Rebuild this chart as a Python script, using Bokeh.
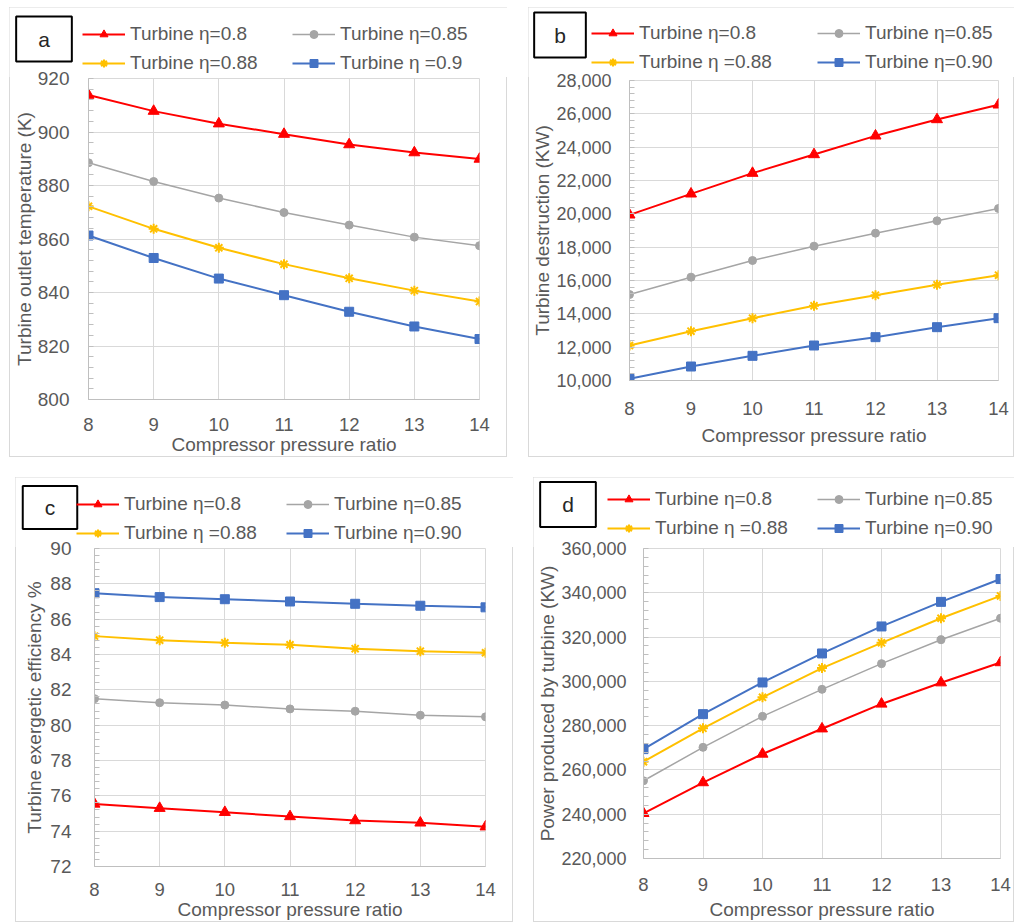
from bokeh.plotting import figure
from bokeh.layouts import column, row
from bokeh.models import (Legend, LegendItem, Label, NumeralTickFormatter,
                          SingleIntervalTicker, FixedTicker, Range1d, Spacer)
from bokeh.embed import file_html
from bokeh.resources import INLINE

# ---------------- data ----------------
pressure_ratio = [8, 9, 10, 11, 12, 13, 14]

a_eta080 = [913.8, 907.8, 903.1, 899.2, 895.3, 892.3, 889.9]
a_eta085 = [888.5, 881.5, 875.3, 869.9, 865.2, 860.7, 857.5]
a_eta088 = [872.2, 863.8, 856.7, 850.6, 845.3, 840.7, 836.6]
a_eta090 = [861.3, 852.9, 845.2, 839.0, 832.8, 827.3, 822.6]

b_eta080 = [19940, 21200, 22440, 23560, 24680, 25660, 26540]
b_eta085 = [15160, 16200, 17200, 18060, 18840, 19580, 20320]
b_eta088 = [12100, 12960, 13740, 14480, 15120, 15740, 16320]
b_eta090 = [10100, 10840, 11480, 12100, 12600, 13200, 13740]

c_eta080 = [75.54, 75.30, 75.07, 74.83, 74.60, 74.47, 74.25]
c_eta085 = [81.50, 81.27, 81.14, 80.92, 80.79, 80.56, 80.47]
c_eta088 = [85.04, 84.81, 84.66, 84.55, 84.33, 84.19, 84.10]
c_eta090 = [87.47, 87.25, 87.13, 87.00, 86.87, 86.76, 86.67]

d_eta080 = [240400, 254300, 267200, 278600, 289800, 299400, 308500]
d_eta085 = [255100, 270200, 284200, 296400, 308000, 318800, 328500]
d_eta088 = [263700, 278800, 292800, 306000, 317400, 328500, 338600]
d_eta090 = [269400, 285200, 299500, 312600, 324800, 335900, 346200]

labels_a = ["Turbine \u03b7=0.8", "Turbine \u03b7=0.85", "Turbine \u03b7=0.88", "Turbine \u03b7 =0.9"]
labels_bcd = ["Turbine \u03b7=0.8", "Turbine \u03b7=0.85", "Turbine \u03b7 =0.88", "Turbine \u03b7=0.90"]

x_title = "Compressor pressure ratio"
y_titles = ["Turbine outlet temperature (K)", "Turbine destruction (KW)",
            "Turbine exergetic efficiency %", "Power produced by turbine (KW)"]

# ---------------- styles ----------------
FONT = "Liberation Sans"
TXT = "#595959"
series_style = [
    dict(color="#ff0000", marker="triangle", size=11, lw=2),
    dict(color="#a5a5a5", marker="circle", size=8, lw=1.5),
    dict(color="#ffc000", marker="asterisk", size=10, lw=2),
    dict(color="#4472c4", marker="square", size=9, lw=2),
]

HEAD_H = 70      # header figure height (label box + legend)
OVERLAP = 14     # header overlaps the top border of the chart figure


def add_series(p, x, y, st):
    r1 = p.line(x, y, line_color=st["color"], line_width=st["lw"])
    r2 = p.scatter(x, y, marker=st["marker"], size=st["size"],
                   fill_color=st["color"], line_color=st["color"],
                   line_width=2 if st["marker"] == "asterisk" else 1)
    return [r1, r2]


def make_panel(letter, ys, labels, ytitle, yr, ystep, fmt, ytick_size,
               box, frame, label_box, leg_cols, leg_row2,
               ytick_std, ytitle_std, xtick_std, xtitle_std):
    # box = (left, top, width, height) of whole panel in page pixels
    # frame = (left, top, right, bottom) of plotting area in page pixels
    bx0, by0, w, h = box
    fx0, fy0, fx1, fy1 = frame
    chart_top = by0 + HEAD_H - OVERLAP
    chart_h = by0 + h - chart_top

    # ---- header (label box + legend) ----
    head = figure(width=w, height=HEAD_H, output_backend="svg",
                  toolbar_location=None, title=None, frame_align=False,
                  x_range=Range1d(0, 1), y_range=Range1d(0, 1),
                  x_axis_location=None, y_axis_location=None,
                  min_border=0)
    head.outline_line_color = None
    head.grid.visible = False
    head.background_fill_color = "white"
    head.border_fill_color = "white"
    head.styles = {"margin-bottom": f"-{OVERLAP}px"}

    items = []
    for y, st, lab in zip(ys, series_style, labels):
        # series kept outside the header's view; only used for legend samples
        rs = add_series(head, pressure_ratio, y, st)
        items.append(LegendItem(label=lab, renderers=rs))

    head_bottom = by0 + HEAD_H
    for col, idx in zip(leg_cols, ([0, 2], [1, 3])):
        lg = Legend(items=[items[i] for i in idx],
                    location=(col - bx0, head_bottom - (leg_row2 + 10)),
                    orientation="vertical",
                    glyph_width=43, glyph_height=20, label_height=20,
                    label_standoff=5, spacing=7, padding=0, margin=0,
                    border_line_color=None, background_fill_alpha=0,
                    label_text_font=FONT, label_text_font_size="19px",
                    label_text_color=TXT)
        head.add_layout(lg)

    lx0, ly0, lx1, ly1 = label_box
    head.add_layout(Label(x=(lx0 + lx1) / 2 - bx0, y=head_bottom - (ly0 + ly1) / 2,
                          x_units="screen", y_units="screen",
                          text=letter, text_align="center", text_baseline="middle",
                          text_font=FONT, text_font_size="21px",
                          text_color="#262626",
                          border_line_color="black", border_line_width=2,
                          background_fill_color="white",
                          padding=(int((lx1 - lx0 - 12) / 2), int((ly1 - ly0 - 22) / 2))))

    # ---- chart ----
    p = figure(width=w, height=chart_h, output_backend="svg",
               toolbar_location=None, title=None, frame_align=False,
               x_range=Range1d(8, 14), y_range=Range1d(*yr),
               min_border_left=fx0 - bx0, min_border_right=bx0 + w - fx1,
               min_border_top=fy0 - chart_top, min_border_bottom=by0 + h - fy1)
    p.background_fill_color = "white"
    p.border_fill_color = None
    p.outline_line_color = "#d9d9d9"
    p.grid.grid_line_color = "#d9d9d9"
    p.grid.grid_line_width = 1

    p.xaxis.ticker = FixedTicker(ticks=pressure_ratio)
    p.yaxis.ticker = SingleIntervalTicker(interval=ystep, num_minor_ticks=5)
    if fmt:
        p.yaxis.formatter = NumeralTickFormatter(format=fmt)
    for ax in (p.xaxis, p.yaxis):
        ax.axis_line_color = "#bfbfbf"
        ax.major_tick_line_color = None
        ax.major_label_text_font = FONT
        ax.major_label_text_color = TXT
        ax.axis_label_text_font = FONT
        ax.axis_label_text_font_size = "19px"
        ax.axis_label_text_font_style = "normal"
        ax.axis_label_text_color = TXT
    p.xaxis.major_label_text_font_size = "18.5px"
    p.yaxis.major_label_text_font_size = ytick_size
    p.xaxis.minor_tick_line_color = None
    p.yaxis.minor_tick_line_color = "#bfbfbf"
    p.yaxis.minor_tick_in = 5
    p.yaxis.minor_tick_out = 0
    p.xaxis.axis_label = x_title
    p.yaxis.axis_label = ytitle
    p.yaxis.major_label_standoff = ytick_std
    p.yaxis.axis_label_standoff = ytitle_std
    p.xaxis.major_label_standoff = xtick_std
    p.xaxis.axis_label_standoff = xtitle_std

    for y, st in zip(ys, series_style):
        add_series(p, pressure_ratio, y, st)

    col = column(head, p, spacing=0)
    col.styles = {"outline": "1px solid #d9d9d9", "outline-offset": "-1px"}
    return col


pa = make_panel("a", [a_eta080, a_eta085, a_eta088, a_eta090], labels_a,
                y_titles[0], (800, 920), 20, None, "19px",
                (9, 7, 498, 450), (88, 78, 479, 400), (15, 16, 72, 61),
                (82, 292), 64, 13, 0, 12, 0)
pb = make_panel("b", [b_eta080, b_eta085, b_eta088, b_eta090], labels_bcd,
                y_titles[1], (10000, 28000), 2000, "0,0", "18px",
                (528, 7, 486, 450), (629, 80, 998, 380), (533, 12, 586, 57),
                (591, 817), 63, 12, 0, 15, 7)
pc = make_panel("c", [c_eta080, c_eta085, c_eta088, c_eta090], labels_bcd,
                y_titles[2], (72, 90), 2, None, "19px",
                (15, 477, 498, 445), (94, 548, 485, 867), (21, 486, 78, 528),
                (76, 286), 534, 17, 2, 10, 0)
pd_ = make_panel("d", [d_eta080, d_eta085, d_eta088, d_eta090], labels_bcd,
                 y_titles[3], (220000, 360000), 20000, "0,0", "18px",
                 (533, 477, 481, 445), (643, 548, 1000, 858), (539, 482, 596, 526),
                 (607, 817), 529, 11, 0, 13, 5)

layout = column(Spacer(height=7),
                row(Spacer(width=9), pa, Spacer(width=21), pb),
                Spacer(height=20),
                row(Spacer(width=15), pc, Spacer(width=20), pd_),
                spacing=0)

open("out.html", "w").write(file_html(layout, INLINE))
